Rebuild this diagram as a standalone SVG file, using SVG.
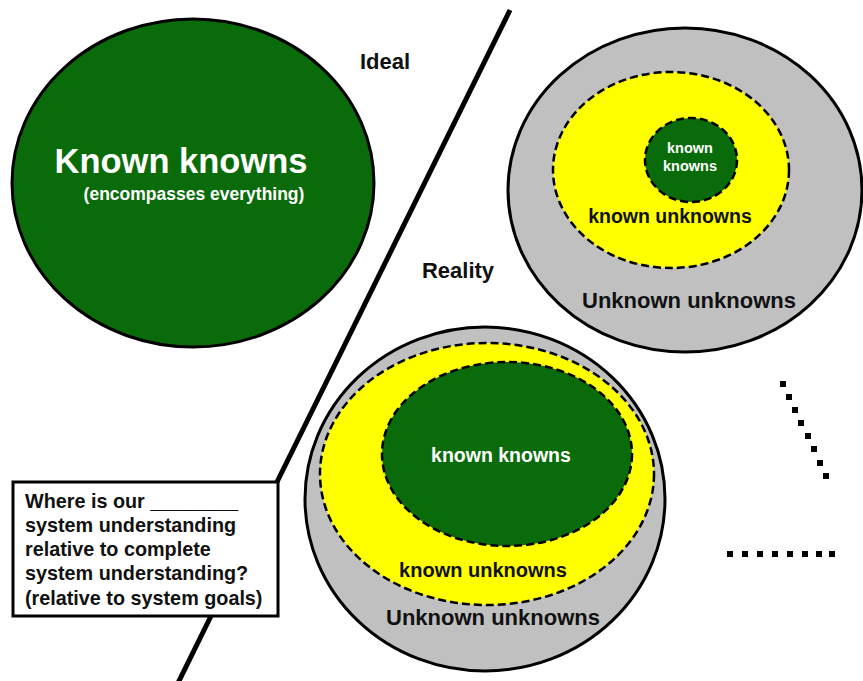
<svg xmlns="http://www.w3.org/2000/svg" width="863" height="681" viewBox="0 0 863 681">
<style>
text{font-family:"Liberation Sans",Arial,sans-serif;font-weight:bold}
.solid{stroke:#000;stroke-width:3}
.dash{stroke:#000;stroke-width:2.5;stroke-dasharray:8 4}
.green{fill:#0a6b0a}
.yellow{fill:#ffff00}
.gray{fill:#c0c0c0}
.wt{fill:#fff}
.bk{fill:#111}
.dot{fill:#000}
</style>
<rect width="863" height="681" fill="#fff"/>
<g id="connectors">
<line x1="510" y1="10" x2="277" y2="482" stroke="#000" stroke-width="5"/>
<line x1="211" y1="616" x2="178" y2="683" stroke="#000" stroke-width="5"/>
</g>
<g id="ideal-circle">
<ellipse cx="193" cy="183" rx="181" ry="164" class="green solid"/>
<text x="181" y="173" font-size="34.5" class="wt" text-anchor="middle">Known knowns</text>
<text x="194" y="200" font-size="17.5" class="wt" text-anchor="middle">(encompasses everything)</text>
</g>
<g id="label-ideal"><text x="385" y="69" font-size="22" class="bk" text-anchor="middle">Ideal</text></g>
<g id="label-reality"><text x="458" y="278" font-size="22" class="bk" text-anchor="middle">Reality</text></g>
<g id="reality-small">
<ellipse cx="685" cy="190" rx="177" ry="162" class="gray solid"/>
<ellipse cx="671" cy="170" rx="118" ry="98" class="yellow dash"/>
<ellipse cx="691" cy="160" rx="46" ry="42" class="green dash"/>
<text x="690" y="153" font-size="14.5" class="wt" text-anchor="middle">known</text>
<text x="690" y="171" font-size="14.5" class="wt" text-anchor="middle">knowns</text>
<text x="670" y="223" font-size="19.5" class="bk" text-anchor="middle">known unknowns</text>
<text x="689" y="308" font-size="22" class="bk" text-anchor="middle">Unknown unknowns</text>
</g>
<g id="reality-large">
<ellipse cx="485" cy="499" rx="180" ry="172" class="gray solid"/>
<ellipse cx="487" cy="474" rx="167" ry="131" class="yellow dash"/>
<ellipse cx="507" cy="454" rx="125" ry="92" class="green dash"/>
<text x="501" y="462" font-size="19.5" class="wt" text-anchor="middle">known knowns</text>
<text x="483" y="577" font-size="20" class="bk" text-anchor="middle">known unknowns</text>
<text x="493" y="625" font-size="22" class="bk" text-anchor="middle">Unknown unknowns</text>
</g>
<g id="question-box">
<rect x="13" y="482" width="265" height="134" fill="#fff" class="solid"/>
<text x="25" y="508" font-size="19.8" class="bk">Where is our ________</text>
<text x="25" y="532" font-size="19.8" class="bk">system understanding</text>
<text x="25" y="556" font-size="19.8" class="bk">relative to complete</text>
<text x="25" y="580" font-size="19.8" class="bk">system understanding?</text>
<text x="25" y="605" font-size="19.8" class="bk">(relative to system goals)</text>
</g>
<g id="ellipsis-dots">
<rect x="780" y="381" width="6" height="6" class="dot"/>
<rect x="786" y="394" width="6" height="6" class="dot"/>
<rect x="792" y="407" width="6" height="6" class="dot"/>
<rect x="798" y="420" width="6" height="6" class="dot"/>
<rect x="805" y="433" width="6" height="6" class="dot"/>
<rect x="811" y="446" width="6" height="6" class="dot"/>
<rect x="817" y="460" width="6" height="6" class="dot"/>
<rect x="823" y="473" width="6" height="6" class="dot"/>
<rect x="727" y="551" width="6" height="6" class="dot"/>
<rect x="742" y="551" width="6" height="6" class="dot"/>
<rect x="757" y="551" width="6" height="6" class="dot"/>
<rect x="772" y="551" width="6" height="6" class="dot"/>
<rect x="787" y="551" width="6" height="6" class="dot"/>
<rect x="802" y="551" width="6" height="6" class="dot"/>
<rect x="816" y="551" width="6" height="6" class="dot"/>
<rect x="829" y="551" width="6" height="6" class="dot"/>
</g>
</svg>
